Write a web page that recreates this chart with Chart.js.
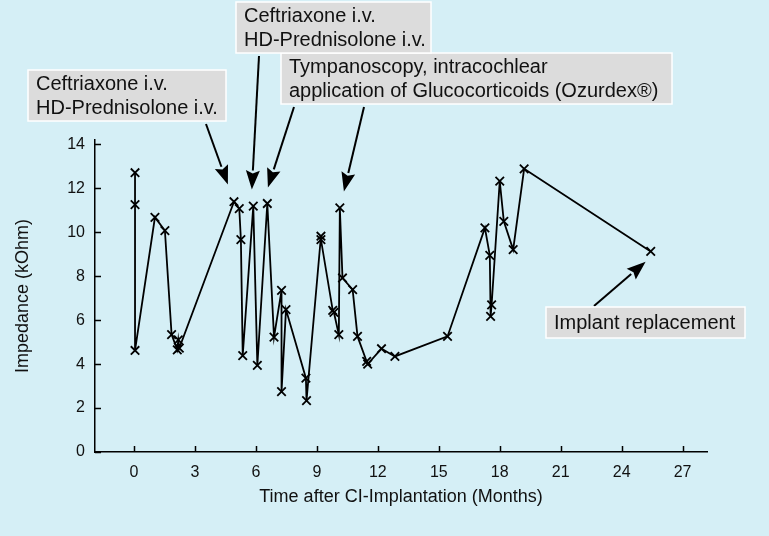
<!DOCTYPE html>
<html>
<head>
<meta charset="utf-8">
<script src="https://cdn.jsdelivr.net/npm/chart.js@4.4.1/dist/chart.umd.min.js"></script>
<style>
  html, body { margin: 0; padding: 0; background: #d5eff6; }
  canvas { display: block; }
</style>
</head>
<body>
<canvas id="impedanceChart" width="769" height="536"></canvas>
<script>
// Zeitpunkte (Monate nach CI-Implantation) und Impedanz (kOhm), in Messreihenfolge
const months = [
  0.05, 0.05, 0.05, 1.03, 1.52, 1.85, 2.13, 2.18, 2.23,
  4.92, 5.18, 5.26, 5.35, 5.87, 6.07, 6.56, 6.89, 7.26, 7.26, 7.48,
  8.46, 8.49, 9.2, 9.2, 9.78, 9.84, 10.08, 10.13, 10.26, 10.76, 11.0,
  11.45, 11.5, 12.18, 12.84, 15.43, 17.27, 17.51, 17.55, 17.6,
  18.0, 18.2, 18.66, 19.2, 25.43
];
const impedance = [
  12.71, 11.26, 4.62, 10.68, 10.08, 5.34, 4.65, 5.1, 4.73,
  11.39, 11.08, 9.67, 4.39, 11.19, 3.94, 11.31, 5.23, 7.36, 2.75, 6.48,
  3.36, 2.34, 9.82, 9.67, 6.45, 6.35, 5.34, 11.11, 7.92, 7.39, 5.26,
  4.12, 4.0, 4.70, 4.35, 5.26, 10.2, 8.95, 6.17, 6.70,
  12.33, 10.5, 9.21, 12.89, 9.13
];
const xTicks = [0, 3, 6, 9, 12, 15, 18, 21, 24, 27];
const yTicks = [0, 2, 4, 6, 8, 10, 12, 14];

// Texte der Ereignisse
const noteTexts = [
  ['Ceftriaxone i.v.', 'HD-Prednisolone i.v.'],
  ['Tympanoscopy, intracochlear', 'application of Glucocorticoids (Ozurdex®)'],
  ['Ceftriaxone i.v.', 'HD-Prednisolone i.v.'],
  ['Implant replacement']
];
// Pfeilspitzen in Datenkoordinaten [Monat, kOhm]
const arrowTips = [
  [4.62, 12.17],
  [5.8, 11.95],
  [6.59, 12.04],
  [10.33, 11.86],
  [25.18, 8.66]
];

const FONT = '"Liberation Sans", Arial, sans-serif';

// Boxen + Pfeile (Layout in Pixeln, Spitzen über die Skalen)
const notesPlugin = {
  id: 'notes',
  afterDraw(chart) {
    const { ctx, scales: { x, y } } = chart;
    const boxes = [
      { x: 28, y: 70, w: 198, h: 51 },
      { x: 281, y: 53, w: 391, h: 51 },
      { x: 236, y: 2, w: 195, h: 51 },
      { x: 546, y: 307, w: 199, h: 31 }
    ];
    const starts = [[206, 124], [259, 56], [294, 107], [364, 107], [594, 306]];

    ctx.save();
    starts.forEach((s, i) => {
      const tx = x.getPixelForValue(arrowTips[i][0]);
      const ty = y.getPixelForValue(arrowTips[i][1]);
      const ang = Math.atan2(ty - s[1], tx - s[0]);
      const headLen = 19, headW = 7;
      const bx = tx - headLen * Math.cos(ang);
      const by = ty - headLen * Math.sin(ang);
      ctx.strokeStyle = '#000';
      ctx.lineWidth = 2;
      ctx.beginPath();
      ctx.moveTo(s[0], s[1]);
      ctx.lineTo(bx, by);
      ctx.stroke();
      ctx.fillStyle = '#000';
      ctx.beginPath();
      ctx.moveTo(tx, ty);
      ctx.lineTo(bx + headW * Math.sin(ang), by - headW * Math.cos(ang));
      ctx.lineTo(bx + 3 * Math.cos(ang), by + 3 * Math.sin(ang));
      ctx.lineTo(bx - headW * Math.sin(ang), by + headW * Math.cos(ang));
      ctx.closePath();
      ctx.fill();
    });

    boxes.forEach((b, i) => {
      ctx.fillStyle = '#dcdcdc';
      ctx.fillRect(b.x, b.y, b.w, b.h);
      ctx.strokeStyle = '#ffffff';
      ctx.lineWidth = 1.5;
      ctx.strokeRect(b.x, b.y, b.w, b.h);
      ctx.fillStyle = '#111';
      ctx.font = '20px ' + FONT;
      ctx.textBaseline = 'middle';
      ctx.textAlign = 'left';
      const lines = noteTexts[i];
      const step = 24.5;
      const y0 = b.y + b.h / 2 - (lines.length - 1) * step / 2;
      lines.forEach((t, k) => ctx.fillText(t, b.x + 8, y0 + k * step + 1));
    });
    ctx.restore();
  }
};

// Ticks nach innen zeichnen
const innerTicksPlugin = {
  id: 'innerTicks',
  afterDraw(chart) {
    const { ctx, scales: { x, y } } = chart;
    ctx.save();
    ctx.strokeStyle = '#000';
    ctx.lineWidth = 1.5;
    ctx.beginPath();
    xTicks.forEach(v => {
      const px = Math.round(x.getPixelForValue(v)) + 0.5;
      ctx.moveTo(px, y.bottom);
      ctx.lineTo(px, y.bottom - 6);
    });
    yTicks.forEach(v => {
      const py = Math.round(y.getPixelForValue(v)) + 0.5;
      ctx.moveTo(x.left, py);
      ctx.lineTo(x.left + 6, py);
    });
    ctx.stroke();
    ctx.restore();
  }
};

const ctx = document.getElementById('impedanceChart').getContext('2d');
new Chart(ctx, {
  type: 'scatter',
  data: {
    datasets: [{
      data: months.map((m, i) => ({ x: m, y: impedance[i] })),
      showLine: true,
      borderColor: '#000',
      borderWidth: 1.8,
      pointStyle: 'crossRot',
      pointRadius: 6,
      pointBorderWidth: 1.8,
      pointBorderColor: '#000',
      pointBackgroundColor: '#000',
      tension: 0
    }]
  },
  options: {
    responsive: false,
    animation: false,
    layout: { padding: { top: 140, right: 62, left: 0, bottom: 0 } },
    plugins: {
      legend: { display: false },
      tooltip: { enabled: false }
    },
    scales: {
      x: {
        type: 'linear',
        min: -1.92,
        max: 28.2,
        afterBuildTicks: s => { s.ticks = xTicks.map(v => ({ value: v })); },
        afterFit: s => { s.height = 84; },
        grid: { drawOnChartArea: false, drawTicks: false },
        border: { display: true, color: '#000', width: 1.5 },
        ticks: { color: '#111', padding: 11, font: { family: FONT, size: 16 } },
        title: {
          display: true,
          text: 'Time after CI-Implantation (Months)',
          color: '#111',
          font: { family: FONT, size: 18 },
          padding: { top: 4, bottom: 28 }
        }
      },
      y: {
        type: 'linear',
        min: 0,
        max: 14.2,
        afterBuildTicks: s => { s.ticks = yTicks.map(v => ({ value: v })); },
        afterFit: s => { s.width = 95; },
        grid: { drawOnChartArea: false, drawTicks: false },
        border: { display: true, color: '#000', width: 1.5 },
        ticks: { color: '#111', padding: 10, font: { family: FONT, size: 16 } },
        title: {
          display: true,
          text: 'Impedance (kOhm)',
          color: '#111',
          font: { family: FONT, size: 18 },
          padding: { top: 12, bottom: 4 }
        }
      }
    }
  },
  plugins: [innerTicksPlugin, notesPlugin]
});
</script>
</body>
</html>
